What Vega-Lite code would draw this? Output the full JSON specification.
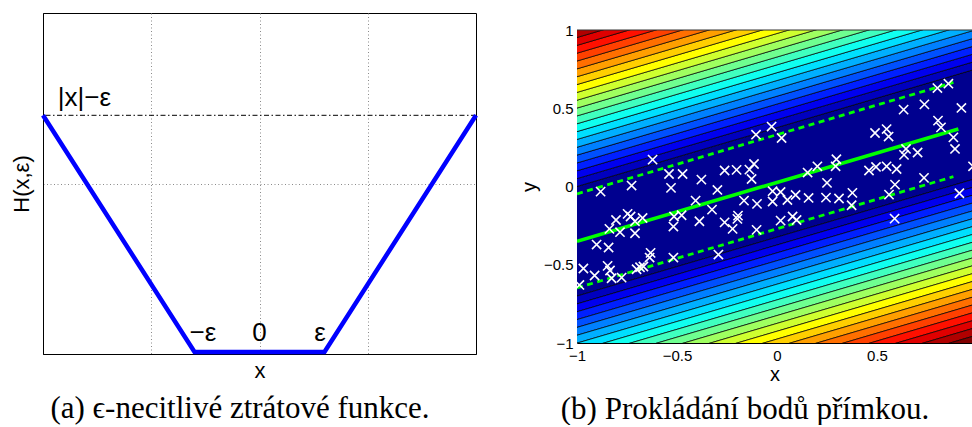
{
"$schema": "https://vega.github.io/schema/vega-lite/v6.json",
"padding": {"left": 9, "top": 12, "right": 0, "bottom": 0},
"background": "white",
"bounds": "flush",
"spacing": 101,
"config": {
  "font": "Liberation Sans",
  "axis": {"labelColor": "black", "titleColor": "black", "titleFontWeight": "normal", "domainColor": "black", "labelFont": "Liberation Sans", "titleFont": "Liberation Sans", "labelFlush": false},
  "title": {"font": "Liberation Serif", "fontWeight": "normal", "color": "black"}
},
"datasets": {
  "hinge": [{"x": -2, "h": 1.4}, {"x": -0.6, "h": 0.012}, {"x": 0.6, "h": 0.012}, {"x": 2, "h": 1.4}],
  "notes": [{"t": "|x|−ε", "x": -1.617, "h": 1.455}, {"t": "−ε", "x": -0.522, "h": 0.076}, {"t": "0", "x": 0, "h": 0.076}, {"t": "ε", "x": 0.559, "h": 0.076}],
  "bands": [
    {"k":0,"s":"m","x":-1.05,"lo":-0.7189,"hi":-0.0187},{"k":0,"s":"m","x":1.05,"lo":0.0717,"hi":0.7719},
    {"k":1,"s":"u","x":-1.05,"lo":-0.0187,"hi":0.0314},{"k":1,"s":"u","x":1.05,"lo":0.7719,"hi":0.8220},
    {"k":2,"s":"u","x":-1.05,"lo":0.0314,"hi":0.0815},{"k":2,"s":"u","x":1.05,"lo":0.8220,"hi":0.8721},
    {"k":3,"s":"u","x":-1.05,"lo":0.0815,"hi":0.1316},{"k":3,"s":"u","x":1.05,"lo":0.8721,"hi":0.9222},
    {"k":4,"s":"u","x":-1.05,"lo":0.1316,"hi":0.1817},{"k":4,"s":"u","x":1.05,"lo":0.9222,"hi":0.9723},
    {"k":5,"s":"u","x":-1.05,"lo":0.1817,"hi":0.2318},{"k":5,"s":"u","x":1.05,"lo":0.9723,"hi":1.0224},
    {"k":6,"s":"u","x":-1.05,"lo":0.2318,"hi":0.2819},{"k":6,"s":"u","x":1.05,"lo":1.0224,"hi":1.0725},
    {"k":7,"s":"u","x":-1.05,"lo":0.2819,"hi":0.3320},{"k":7,"s":"u","x":1.05,"lo":1.0725,"hi":1.1226},
    {"k":8,"s":"u","x":-1.05,"lo":0.3320,"hi":0.3821},{"k":8,"s":"u","x":1.05,"lo":1.1226,"hi":1.1727},
    {"k":9,"s":"u","x":-1.05,"lo":0.3821,"hi":0.4322},{"k":9,"s":"u","x":1.05,"lo":1.1727,"hi":1.2228},
    {"k":10,"s":"u","x":-1.05,"lo":0.4322,"hi":0.4823},{"k":10,"s":"u","x":1.05,"lo":1.2228,"hi":1.2729},
    {"k":11,"s":"u","x":-1.05,"lo":0.4823,"hi":0.5324},{"k":11,"s":"u","x":1.05,"lo":1.2729,"hi":1.3230},
    {"k":12,"s":"u","x":-1.05,"lo":0.5324,"hi":0.5825},{"k":12,"s":"u","x":1.05,"lo":1.3230,"hi":1.3731},
    {"k":13,"s":"u","x":-1.05,"lo":0.5825,"hi":0.6326},{"k":13,"s":"u","x":1.05,"lo":1.3731,"hi":1.4232},
    {"k":14,"s":"u","x":-1.05,"lo":0.6326,"hi":0.6827},{"k":14,"s":"u","x":1.05,"lo":1.4232,"hi":1.4733},
    {"k":15,"s":"u","x":-1.05,"lo":0.6827,"hi":0.7328},{"k":15,"s":"u","x":1.05,"lo":1.4733,"hi":1.5234},
    {"k":16,"s":"u","x":-1.05,"lo":0.7328,"hi":0.7829},{"k":16,"s":"u","x":1.05,"lo":1.5234,"hi":1.5735},
    {"k":17,"s":"u","x":-1.05,"lo":0.7829,"hi":0.8330},{"k":17,"s":"u","x":1.05,"lo":1.5735,"hi":1.6236},
    {"k":18,"s":"u","x":-1.05,"lo":0.8330,"hi":0.8831},{"k":18,"s":"u","x":1.05,"lo":1.6236,"hi":1.6737},
    {"k":19,"s":"u","x":-1.05,"lo":0.8831,"hi":0.9332},{"k":19,"s":"u","x":1.05,"lo":1.6737,"hi":1.7238},
    {"k":20,"s":"u","x":-1.05,"lo":0.9332,"hi":0.9833},{"k":20,"s":"u","x":1.05,"lo":1.7238,"hi":1.7739},
    {"k":21,"s":"u","x":-1.05,"lo":0.9833,"hi":3},{"k":21,"s":"u","x":1.05,"lo":1.7739,"hi":3},
    {"k":1,"s":"d","x":-1.05,"lo":-0.7690,"hi":-0.7189},{"k":1,"s":"d","x":1.05,"lo":0.0216,"hi":0.0717},
    {"k":2,"s":"d","x":-1.05,"lo":-0.8191,"hi":-0.7690},{"k":2,"s":"d","x":1.05,"lo":-0.0285,"hi":0.0216},
    {"k":3,"s":"d","x":-1.05,"lo":-0.8692,"hi":-0.8191},{"k":3,"s":"d","x":1.05,"lo":-0.0786,"hi":-0.0285},
    {"k":4,"s":"d","x":-1.05,"lo":-0.9193,"hi":-0.8692},{"k":4,"s":"d","x":1.05,"lo":-0.1287,"hi":-0.0786},
    {"k":5,"s":"d","x":-1.05,"lo":-0.9694,"hi":-0.9193},{"k":5,"s":"d","x":1.05,"lo":-0.1788,"hi":-0.1287},
    {"k":6,"s":"d","x":-1.05,"lo":-1.0195,"hi":-0.9694},{"k":6,"s":"d","x":1.05,"lo":-0.2289,"hi":-0.1788},
    {"k":7,"s":"d","x":-1.05,"lo":-1.0696,"hi":-1.0195},{"k":7,"s":"d","x":1.05,"lo":-0.2790,"hi":-0.2289},
    {"k":8,"s":"d","x":-1.05,"lo":-1.1197,"hi":-1.0696},{"k":8,"s":"d","x":1.05,"lo":-0.3291,"hi":-0.2790},
    {"k":9,"s":"d","x":-1.05,"lo":-1.1698,"hi":-1.1197},{"k":9,"s":"d","x":1.05,"lo":-0.3792,"hi":-0.3291},
    {"k":10,"s":"d","x":-1.05,"lo":-1.2199,"hi":-1.1698},{"k":10,"s":"d","x":1.05,"lo":-0.4293,"hi":-0.3792},
    {"k":11,"s":"d","x":-1.05,"lo":-1.2700,"hi":-1.2199},{"k":11,"s":"d","x":1.05,"lo":-0.4794,"hi":-0.4293},
    {"k":12,"s":"d","x":-1.05,"lo":-1.3201,"hi":-1.2700},{"k":12,"s":"d","x":1.05,"lo":-0.5295,"hi":-0.4794},
    {"k":13,"s":"d","x":-1.05,"lo":-1.3702,"hi":-1.3201},{"k":13,"s":"d","x":1.05,"lo":-0.5796,"hi":-0.5295},
    {"k":14,"s":"d","x":-1.05,"lo":-1.4203,"hi":-1.3702},{"k":14,"s":"d","x":1.05,"lo":-0.6297,"hi":-0.5796},
    {"k":15,"s":"d","x":-1.05,"lo":-1.4704,"hi":-1.4203},{"k":15,"s":"d","x":1.05,"lo":-0.6798,"hi":-0.6297},
    {"k":16,"s":"d","x":-1.05,"lo":-1.5205,"hi":-1.4704},{"k":16,"s":"d","x":1.05,"lo":-0.7299,"hi":-0.6798},
    {"k":17,"s":"d","x":-1.05,"lo":-1.5706,"hi":-1.5205},{"k":17,"s":"d","x":1.05,"lo":-0.7800,"hi":-0.7299},
    {"k":18,"s":"d","x":-1.05,"lo":-1.6207,"hi":-1.5706},{"k":18,"s":"d","x":1.05,"lo":-0.8301,"hi":-0.7800},
    {"k":19,"s":"d","x":-1.05,"lo":-1.6708,"hi":-1.6207},{"k":19,"s":"d","x":1.05,"lo":-0.8802,"hi":-0.8301},
    {"k":20,"s":"d","x":-1.05,"lo":-1.7209,"hi":-1.6708},{"k":20,"s":"d","x":1.05,"lo":-0.9303,"hi":-0.8802},
    {"k":21,"s":"d","x":-1.05,"lo":-3,"hi":-1.7209},{"k":21,"s":"d","x":1.05,"lo":-3,"hi":-0.9303}
  ],
  "fit": [{"x": -1, "y": -0.35}, {"x": 0.907, "y": 0.368}],
  "tube": [{"g": "up", "x": -1, "y": -0.047}, {"g": "up", "x": 0.882, "y": 0.665}, {"g": "lo", "x": -1, "y": -0.648}, {"g": "lo", "x": 0.882, "y": 0.063}],
  "pts": [
    {"x":-0.622,"y":0.172},{"x":-0.105,"y":0.331},{"x":-0.027,"y":0.383},{"x":0.023,"y":0.310},{"x":-0.54,"y":0.080},
    {"x":-0.472,"y":0.080},{"x":-0.53,"y":-0.009},{"x":-0.378,"y":0.044},{"x":-0.727,"y":0.006},{"x":-0.882,"y":-0.033},
    {"x":-0.262,"y":0.102},{"x":-0.202,"y":0.106},{"x":-0.115,"y":0.144},{"x":-0.138,"y":0.108},{"x":-0.127,"y":0.048},
    {"x":-0.298,"y":-0.022},{"x":-0.407,"y":-0.090},{"x":-0.325,"y":-0.148},{"x":-0.388,"y":-0.222},{"x":-0.262,"y":-0.229},
    {"x":-0.222,"y":-0.271},{"x":-0.195,"y":-0.186},{"x":-0.198,"y":-0.207},{"x":-0.165,"y":-0.090},{"x":-0.10,"y":-0.111},
    {"x":-0.102,"y":-0.277},{"x":-0.022,"y":-0.030},{"x":-0.022,"y":-0.096},{"x":0.018,"y":-0.035},{"x":0.052,"y":-0.086},
    {"x":0.093,"y":-0.054},{"x":0.158,"y":-0.073},{"x":0.018,"y":-0.218},{"x":0.078,"y":-0.192},{"x":0.098,"y":-0.214},
    {"x":0.153,"y":0.089},{"x":0.202,"y":0.129},{"x":0.25,"y":0.023},{"x":0.297,"y":0.174},{"x":0.293,"y":0.129},
    {"x":0.245,"y":-0.071},{"x":0.31,"y":-0.077},{"x":0.377,"y":-0.041},{"x":0.373,"y":-0.12},{"x":0.46,"y":0.102},
    {"x":0.495,"y":0.125},{"x":0.548,"y":0.129},{"x":0.598,"y":0.112},{"x":0.49,"y":0.342},{"x":0.548,"y":0.367},
    {"x":0.558,"y":0.319},{"x":0.633,"y":0.491},{"x":0.737,"y":0.525},{"x":0.802,"y":0.629},{"x":0.857,"y":0.657},
    {"x":0.922,"y":0.502},{"x":0.805,"y":0.421},{"x":0.82,"y":0.378},{"x":0.882,"y":0.314},{"x":0.89,"y":0.24},
    {"x":0.645,"y":0.24},{"x":0.635,"y":0.202},{"x":0.703,"y":0.217},{"x":0.735,"y":0.055},{"x":0.59,"y":0.012},
    {"x":0.56,"y":-0.052},{"x":0.588,"y":-0.205},{"x":0.912,"y":-0.043},{"x":0.98,"y":0.129},{"x":-0.805,"y":-0.214},
    {"x":-0.838,"y":-0.271},{"x":-0.747,"y":-0.175},{"x":-0.732,"y":-0.192},{"x":-0.785,"y":-0.292},{"x":-0.71,"y":-0.222},
    {"x":-0.71,"y":-0.299},{"x":-0.672,"y":-0.201},{"x":-0.902,"y":-0.371},{"x":-0.842,"y":-0.39},{"x":-0.515,"y":-0.192},
    {"x":-0.477,"y":-0.184},{"x":-0.518,"y":-0.256},{"x":-0.518,"y":-0.454},{"x":-0.632,"y":-0.424},{"x":-0.637,"y":-0.454},
    {"x":-0.668,"y":-0.511},{"x":-0.685,"y":-0.516},{"x":-0.702,"y":-0.529},{"x":-0.847,"y":-0.507},{"x":-0.835,"y":-0.537},
    {"x":-0.827,"y":-0.586},{"x":-0.777,"y":-0.582},{"x":-0.912,"y":-0.569},{"x":-0.968,"y":-0.524},{"x":-0.988,"y":-0.629},
    {"x":-0.293,"y":-0.435}
  ]
},
"hconcat": [
  {
    "width": 433, "height": 341,
    "view": {"stroke": "black", "strokeWidth": 1},
    "title": {"text": "(a) ϵ-necitlivé ztrátové funkce.", "orient": "bottom", "anchor": "middle", "fontSize": 31, "offset": 13, "dx": -19.5},
    "layer": [
      {
        "data": {"values": [{}]},
        "mark": {"type": "rule", "color": "black", "strokeWidth": 1, "strokeDash": [5, 2.5, 1.5, 2.5]},
        "encoding": {"y": {"datum": 1.4, "type": "quantitative", "scale": {"domain": [0, 2], "nice": false}}}
      },
      {
        "data": {"name": "hinge"},
        "mark": {"type": "line", "color": "#0000ff", "strokeWidth": 4.5},
        "encoding": {
          "x": {"field": "x", "type": "quantitative", "scale": {"domain": [-2, 2], "nice": false},
                "axis": {"values": [-1, 0, 1], "labels": false, "ticks": false, "grid": true, "gridDash": [1, 2.5], "gridColor": "#8a8a8a", "gridWidth": 1, "title": "x", "titleFontSize": 22, "titlePadding": 6}},
          "y": {"field": "h", "type": "quantitative", "scale": {"domain": [0, 2], "nice": false},
                "axis": {"values": [1], "labels": false, "ticks": false, "grid": true, "gridDash": [1, 2.5], "gridColor": "#8a8a8a", "gridWidth": 1, "title": "H(x,ε)", "titleFontSize": 22, "titlePadding": 10}}
        }
      },
      {
        "data": {"name": "notes"},
        "mark": {"type": "text", "fontSize": 26, "baseline": "alphabetic", "align": "center", "color": "black"},
        "encoding": {
          "x": {"field": "x", "type": "quantitative"},
          "y": {"field": "h", "type": "quantitative"},
          "text": {"field": "t"}
        }
      }
    ]
  },
  {
    "vconcat": [
      {
        "width": 395, "height": 1,
        "view": {"stroke": null},
        "data": {"values": [{}]},
        "mark": {"type": "point", "opacity": 0, "size": 0},
        "encoding": {}
      },
      {
        "width": 395, "height": 313,
        "view": {"stroke": null},
        "title": {"text": "(b) Prokládání bodů přímkou.", "orient": "bottom", "anchor": "middle", "fontSize": 31, "offset": 11, "dx": -29.5},
        "layer": [
          {
            "data": {"name": "bands"},
            "mark": {"type": "area", "clip": true, "stroke": "black", "strokeWidth": 0.7},
            "encoding": {
              "x": {"field": "x", "type": "quantitative", "scale": {"domain": [-1, 0.975], "nice": false, "zero": false},
                    "axis": {"values": [-1, -0.5, 0, 0.5], "format": "~g", "labelFontSize": 15, "labelFlush": false, "ticks": false, "labelPadding": 5, "grid": false, "title": "x", "titleFontSize": 20, "titlePadding": 1}},
              "y": {"field": "lo", "type": "quantitative", "scale": {"domain": [-1, 1], "nice": false, "zero": false},
                    "axis": {"values": [-1, -0.5, 0, 0.5, 1], "format": "~g", "labelFontSize": 15, "labelFlush": false, "ticks": false, "labelPadding": 4, "grid": false, "title": "y", "titleFontSize": 20, "titlePadding": 4}},
              "y2": {"field": "hi"},
              "color": {"field": "k", "type": "quantitative", "legend": null,
                        "scale": {"domain": [0, 2.33, 7.67, 13, 18.33, 21], "range": ["#00008f", "#0000ff", "#00ffff", "#ffff00", "#ff0000", "#800000"], "interpolate": "rgb"}},
              "detail": {"field": "s"}
            }
          },
          {
            "data": {"values": [{}]},
            "mark": {"type": "rule", "color": "#333333", "strokeWidth": 1},
            "encoding": {"y": {"datum": 1, "type": "quantitative"}}
          },
          {
            "data": {"name": "fit"},
            "mark": {"type": "line", "color": "#00ff00", "strokeWidth": 3.6, "clip": true},
            "encoding": {
              "x": {"field": "x", "type": "quantitative"},
              "y": {"field": "y", "type": "quantitative"}
            }
          },
          {
            "data": {"name": "tube"},
            "mark": {"type": "line", "color": "#00ff00", "strokeWidth": 2.8, "strokeDash": [6, 4.5], "clip": true},
            "encoding": {
              "x": {"field": "x", "type": "quantitative"},
              "y": {"field": "y", "type": "quantitative"},
              "detail": {"field": "g"}
            }
          },
          {
            "data": {"name": "pts"},
            "mark": {"type": "point", "shape": "M-1,-1L1,1M-1,1L1,-1", "filled": false, "stroke": "white", "strokeWidth": 1.6, "size": 85, "opacity": 1, "clip": true},
            "encoding": {
              "x": {"field": "x", "type": "quantitative"},
              "y": {"field": "y", "type": "quantitative"}
            }
          }
        ]
      }
    ],
    "spacing": 16,
    "bounds": "flush"
  }
]
}
